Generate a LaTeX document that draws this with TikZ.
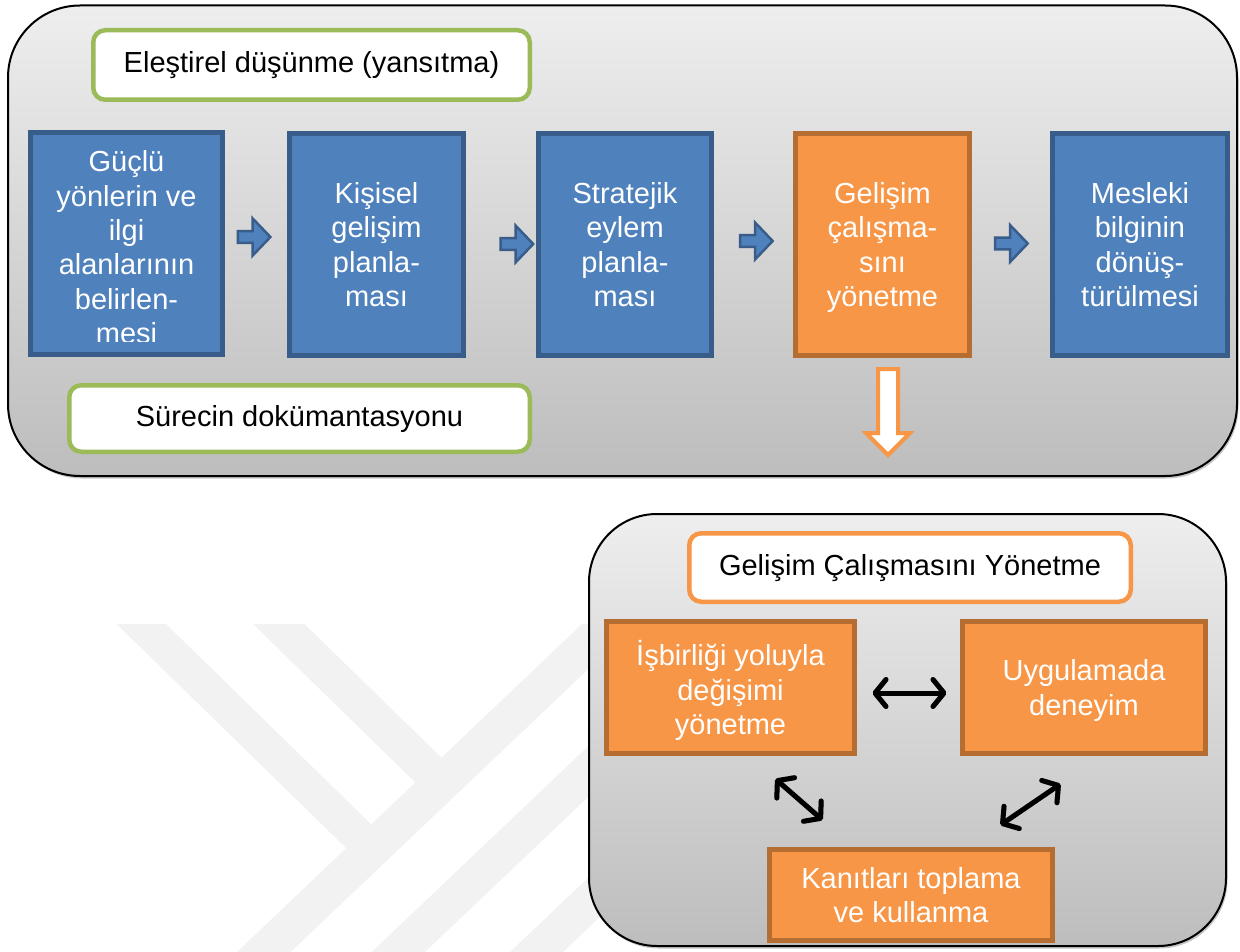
\documentclass[tikz,border=0pt]{standalone}
\usepackage{fontspec}
\setmainfont{Liberation Sans}
\usetikzlibrary{arrows.meta,shadows,calc}
\definecolor{bluefill}{HTML}{4F81BD}
\definecolor{blueline}{HTML}{385D8A}
\definecolor{orfill}{HTML}{F79646}
\definecolor{orline}{HTML}{B66D31}
\definecolor{grline}{HTML}{9BBB59}
\definecolor{bgtop}{RGB}{238,238,238}
\definecolor{bgbot}{RGB}{189,189,189}
\definecolor{wmark}{RGB}{242,242,242}
\tikzset{
  bigbox/.style={draw=black, line width=2pt, top color=bgtop, bottom color=bgbot,
    inner sep=0pt, outer sep=0pt,
    drop shadow={shadow xshift=1.5pt, shadow yshift=-2.5pt, opacity=.45}},
  txt/.style={font=\fontsize{29}{34.3}\selectfont, align=center},
  procbox/.style={txt, draw=blueline, fill=bluefill, line width=5pt, inner sep=0pt,
    text=white, text depth=0pt},
  orbox/.style={txt, draw=orline, fill=orfill, line width=5pt, inner sep=0pt,
    text=white, text depth=0pt},
  titlebox/.style={txt, fill=white, line width=4.5pt, rounded corners=12pt,
    inner sep=0pt, text=black, text height=21pt, text depth=6pt},
  smallarrow/.style={draw=blueline, fill=bluefill, line width=2.5pt, line join=miter},
  hollowarrow/.style={draw=orfill, fill=white, line width=4pt, line join=miter},
  dblarrow/.style={line width=5pt, line cap=round,
    {Straight Barb[length=11pt,width=27pt,round]}-{Straight Barb[length=11pt,width=27pt,round]}},
  rarrow/.pic={\draw[smallarrow] (-16.3,-5.8) -- (-1.5,-5.8) -- (-1.5,-18.5) -- (16.2,0)
      -- (-1.5,18.5) -- (-1.5,5.8) -- (-16.3,5.8) -- cycle;}
}
\begin{document}
\begin{tikzpicture}[x=1pt,y=-1pt]
\useasboundingbox (0,0) rectangle (1240,952);
% faint watermark
\begin{scope}
\clip (0,0) rectangle (1240,952);
\fill[wmark] (237,952) -- (290.6,952) -- (600,658) -- (600,624) -- (582,624) -- cycle;
\fill[wmark] (116.6,624) -- (166,624) -- (371.3,824.4) -- (346.3,848.2) -- cycle;
\fill[wmark] (253,624) -- (304.5,624) -- (441.5,757.7) -- (415.4,782.5) -- cycle;
\fill[wmark] (371.7,952) -- (425,952) -- (600,785.75) -- (600,735) -- cycle;
\fill[wmark] (510,952) -- (563,952) -- (600,916.85) -- (600,866.5) -- cycle;
\end{scope}

% upper container
\node[bigbox, rounded corners=72pt, minimum width=1229pt, minimum height=470.5pt]
  (upper) at (622.5,240.75) {};
\node[titlebox, draw=grline, minimum width=436.5pt, minimum height=69.5pt]
  (reflect) at (311.5,65) {Eleştirel düşünme (yansıtma)};
\node[titlebox, draw=grline, minimum width=460.5pt, minimum height=66.5pt]
  (doc) at (299.5,418.5) {Sürecin dokümantasyonu};

\node[procbox, minimum width=192pt, minimum height=222pt] (b1) at (126.5,243.5) {};
\begin{scope}
\clip (30,130) rectangle (225,341.5);
\node[txt, text=white, text depth=0pt, inner sep=0pt]
  (b1text) at (126.5,247.2) {Güçlü\\yönlerin ve\\ilgi\\alanlarının\\belirlen-\\mesi};
\end{scope}
\node[procbox, minimum width=174pt, minimum height=222pt] (b2) at (376.5,244.5)
  {Kişisel\\gelişim\\planla-\\ması};
\node[procbox, minimum width=173pt, minimum height=222pt] (b3) at (625,244.5)
  {Stratejik\\eylem\\planla-\\ması};
\node[orbox, minimum width=174pt, minimum height=222pt] (b4) at (882.5,244.5)
  {Gelişim\\çalışma-\\sını\\yönetme};
\node[procbox, minimum width=175pt, minimum height=222pt] (b5) at (1140,244.5)
  {Mesleki\\bilginin\\dönüş-\\türülmesi};

\pic at (254.2,237) {rarrow};
\pic at (517,244) {rarrow};
\pic at (756.5,241) {rarrow};
\pic at (1011.5,243.5) {rarrow};

\draw[hollowarrow] (878,369) -- (898,369) -- (898,433) -- (910,433) -- (888,455)
  -- (866,433) -- (878,433) -- cycle;

% lower container
\node[bigbox, rounded corners=68pt, minimum width=637pt, minimum height=432pt]
  (lower) at (907.5,730) {};
\node[titlebox, draw=orfill, minimum width=441.5pt, minimum height=68.5pt]
  (manage) at (910,567.5) {Gelişim Çalışmasını Yönetme};
\node[orbox, minimum width=248pt, minimum height=132pt] (o1) at (730.5,687.5)
  {İşbirliği yoluyla\\değişimi\\yönetme};
\node[orbox, minimum width=243pt, minimum height=132pt] (o2) at (1084,687.5)
  {Uygulamada\\deneyim};
\node[orbox, minimum width=283pt, minimum height=91pt] (o3) at (911,895)
  {Kanıtları toplama\\ve kullanma};

\coordinate (h1) at (872.5,693);
\coordinate (h2) at (946.5,693);
\coordinate (l1) at (775.5,779);
\coordinate (l2) at (822.5,820);
\coordinate (r1) at (1060.5,784);
\coordinate (r2) at (1000.5,825);
\foreach \a/\b in {h1/h2,l1/l2,r1/r2}{
  \draw[dblarrow, draw=black!40, xshift=1.5pt, yshift=-2.5pt] (\a) -- (\b);
  \draw[dblarrow, draw=black] (\a) -- (\b);
}
\end{tikzpicture}
\end{document}
